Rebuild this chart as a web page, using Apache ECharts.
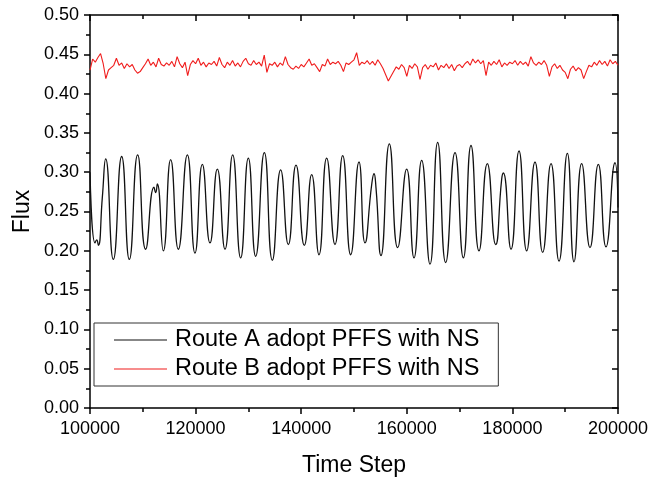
<!DOCTYPE html>
<html>
<head>
<meta charset="utf-8">
<script src="https://cdn.jsdelivr.net/npm/echarts@6/dist/echarts.min.js"></script>
<style>html,body{margin:0;padding:0;background:#fff}#c{width:650px;height:478px}</style>
</head>
<body>
<div id="c"></div>
<script>
const seriesNames = ['Route A adopt PFFS with NS', 'Route B adopt PFFS with NS'];
const xTitle = 'Time Step';
const yTitle = 'Flux';

// Route A (black): read at peaks, troughs and shoulders
const stepsA = [100000,100947,101263,101578,102336,102967,104419,105997,107449,109027,110542,112121,112437,112752,113889,115278,116730,118434,119886,121275,122727,124116,125568,127020,128535,129987,131376,133018,134533,136111,137563,139015,140593,141982,143371,144823,146402,147854,149369,150947,152083,153346,153788,154167,155114,156692,158270,159975,161364,162816,164394,165846,167361,169129,170707,172159,173674,175253,176831,177967,178283,179735,181250,182702,184280,185732,187311,188826,190404,191667,193119,194697,196275,197727,199432,200000];
const fluxA = [0.300,0.210,0.214,0.207,0.268,0.317,0.189,0.320,0.189,0.322,0.202,0.281,0.274,0.285,0.200,0.316,0.202,0.322,0.197,0.310,0.210,0.304,0.202,0.322,0.191,0.318,0.193,0.325,0.188,0.303,0.208,0.309,0.207,0.297,0.195,0.318,0.208,0.321,0.195,0.313,0.210,0.284,0.298,0.280,0.194,0.336,0.204,0.304,0.191,0.315,0.183,0.338,0.185,0.325,0.191,0.334,0.200,0.311,0.208,0.291,0.299,0.202,0.327,0.200,0.313,0.198,0.311,0.187,0.324,0.186,0.311,0.204,0.310,0.205,0.312,0.255];

// Route B (red)
const stepsB = [
100000,100500,101000,101500,102000,102500,103000,103500,104000,104500,
105000,105500,106000,106500,107000,107500,108000,108500,109000,109500,
110000,110500,111000,111500,112000,112500,113000,113500,114000,114500,
115000,115500,116000,116500,117000,117500,118000,118500,119000,119500,
120000,120500,121000,121500,122000,122500,123000,123500,124000,124500,
125000,125500,126000,126500,127000,127500,128000,128500,129000,129500,
130000,130500,131000,131500,132000,132500,133000,133500,134000,134500,
135000,135500,136000,136500,137000,137500,138000,138500,139000,139500,
140000,140500,141000,141500,142000,142500,143000,143500,144000,144500,
145000,145500,146000,146500,147000,147500,148000,148500,149000,149500,
150000,150500,151000,151500,152000,152500,153000,153500,154000,154500,
155000,155500,156000,156500,157000,157500,158000,158500,159000,159500,
160000,160500,161000,161500,162000,162500,163000,163500,164000,164500,
165000,165500,166000,166500,167000,167500,168000,168500,169000,169500,
170000,170500,171000,171500,172000,172500,173000,173500,174000,174500,
175000,175500,176000,176500,177000,177500,178000,178500,179000,179500,
180000,180500,181000,181500,182000,182500,183000,183500,184000,184500,
185000,185500,186000,186500,187000,187500,188000,188500,189000,189500,
190000,190500,191000,191500,192000,192500,193000,193500,194000,194500,
195000,195500,196000,196500,197000,197500,198000,198500,199000,199500,
200000];
const fluxB = [
0.430,0.444,0.440,0.446,0.451,0.438,0.419,0.430,0.433,0.436,
0.445,0.436,0.439,0.432,0.438,0.434,0.437,0.430,0.426,0.428,
0.433,0.438,0.444,0.436,0.440,0.434,0.445,0.437,0.435,0.439,
0.436,0.441,0.434,0.447,0.438,0.433,0.440,0.423,0.437,0.442,
0.438,0.445,0.436,0.440,0.434,0.439,0.437,0.441,0.435,0.446,
0.437,0.433,0.440,0.436,0.442,0.435,0.439,0.434,0.441,0.445,
0.438,0.436,0.442,0.437,0.440,0.435,0.449,0.427,0.438,0.436,
0.440,0.434,0.439,0.436,0.447,0.437,0.433,0.431,0.435,0.432,
0.437,0.434,0.439,0.444,0.436,0.438,0.433,0.428,0.437,0.435,
0.444,0.437,0.440,0.438,0.441,0.436,0.428,0.439,0.437,0.440,
0.443,0.452,0.436,0.440,0.438,0.442,0.437,0.441,0.436,0.443,
0.438,0.432,0.424,0.416,0.422,0.428,0.434,0.431,0.437,0.433,
0.422,0.436,0.432,0.438,0.434,0.418,0.433,0.437,0.431,0.436,
0.434,0.439,0.430,0.436,0.433,0.438,0.432,0.437,0.429,0.435,
0.437,0.433,0.438,0.441,0.436,0.444,0.439,0.443,0.438,0.442,
0.423,0.440,0.436,0.441,0.437,0.443,0.434,0.439,0.436,0.440,
0.438,0.442,0.436,0.441,0.437,0.440,0.435,0.447,0.439,0.436,
0.440,0.437,0.442,0.436,0.422,0.434,0.438,0.432,0.436,0.430,
0.427,0.419,0.431,0.435,0.429,0.433,0.430,0.419,0.428,0.436,
0.434,0.440,0.436,0.442,0.437,0.441,0.435,0.443,0.438,0.441,
0.436];

const xMin = 100000, xMax = 200000, xStep = 20000;
const yMin = 0, yMax = 0.5, yStep = 0.05;

const FONT = '"Liberation Sans", Arial, sans-serif';
const axisLine = { show: true, onZero: false, lineStyle: { color: '#000', width: 1.5 } };

const chart = echarts.init(document.getElementById('c'), null, { renderer: 'canvas' });
chart.setOption({
  animation: false,
  backgroundColor: '#fff',
  textStyle: { fontFamily: FONT },
  grid: { left: 90, right: 32, top: 15, bottom: 70, containLabel: false, outerBoundsMode: 'none' },
  legend: {
    orient: 'vertical',
    left: 94, top: 323,
    padding: [5, 19, 5, 20],
    itemGap: 5,
    icon: 'rect',
    itemWidth: 53, itemHeight: 1.2,
    borderColor: '#333', borderWidth: 1,
    backgroundColor: '#fff',
    textStyle: { fontSize: 23.5, color: '#000', fontFamily: FONT, padding: [0, 0, 0, 3] },
    data: seriesNames
  },
  xAxis: [{
    type: 'value', min: xMin, max: xMax, interval: xStep,
    position: 'bottom',
    axisLine: axisLine,
    axisTick: { show: true, inside: false, length: 6, lineStyle: { color: '#000', width: 1.5 } },
    minorTick: { show: true, splitNumber: 2, length: 4, lineStyle: { color: '#000', width: 1.5 } },
    splitLine: { show: false },
    axisLabel: { fontSize: 18, color: '#000', margin: 12, fontFamily: FONT, formatter: v => String(v) },
    name: xTitle, nameLocation: 'middle', nameGap: 46, nameMoveOverlap: false,
    nameTextStyle: { fontSize: 23, color: '#000', fontFamily: FONT }
  }, {
    type: 'value', min: xMin, max: xMax, interval: xStep,
    position: 'top',
    axisLine: axisLine,
    axisTick: { show: true, inside: true, length: 6, lineStyle: { color: '#000', width: 1.5 } },
    minorTick: { show: true, splitNumber: 2, length: 4, lineStyle: { color: '#000', width: 1.5 } },
    splitLine: { show: false },
    axisLabel: { show: false }
  }],
  yAxis: [{
    type: 'value', min: yMin, max: yMax, interval: yStep,
    position: 'left',
    axisLine: axisLine,
    axisTick: { show: true, inside: false, length: 6, lineStyle: { color: '#000', width: 1.5 } },
    minorTick: { show: true, splitNumber: 2, length: 4, lineStyle: { color: '#000', width: 1.5 } },
    splitLine: { show: false },
    axisLabel: { fontSize: 18, color: '#000', margin: 11, fontFamily: FONT, formatter: v => v.toFixed(2) },
    name: yTitle, nameLocation: 'middle', nameGap: 56, nameRotate: 90, nameMoveOverlap: false,
    nameTextStyle: { fontSize: 23, color: '#000', fontFamily: FONT }
  }, {
    type: 'value', min: yMin, max: yMax, interval: yStep,
    position: 'right',
    axisLine: axisLine,
    axisTick: { show: true, inside: true, length: 6, lineStyle: { color: '#000', width: 1.5 } },
    splitLine: { show: false },
    axisLabel: { show: false }
  }],
  series: [{
    name: seriesNames[0], type: 'line', xAxisIndex: 0, yAxisIndex: 0,
    data: stepsA.map((t, i) => [t, fluxA[i]]),
    symbol: 'none', smooth: 0.55,
    lineStyle: { color: '#111', width: 1.3 },
    itemStyle: { color: '#111' }
  }, {
    name: seriesNames[1], type: 'line', xAxisIndex: 0, yAxisIndex: 0,
    data: stepsB.map((t, i) => [t, fluxB[i]]),
    symbol: 'none',
    lineStyle: { color: '#f01c1c', width: 1.1 },
    itemStyle: { color: '#f01c1c' }
  }]
});
</script>
</body>
</html>
